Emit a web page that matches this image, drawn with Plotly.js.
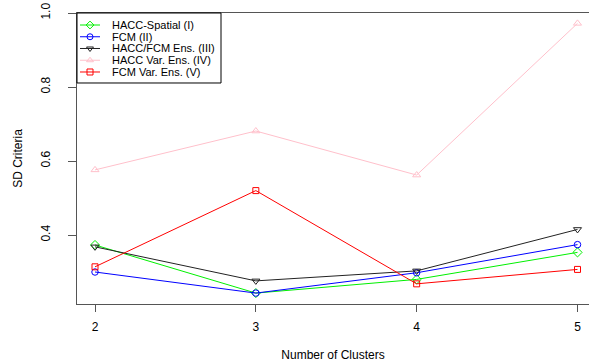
<!DOCTYPE html>
<html><head><meta charset="utf-8">
<script src="https://cdn.plot.ly/plotly-3.0.1.min.js"></script>
<style>html,body{margin:0;padding:0;background:#fff}#chart{width:589px;height:364px}</style>
</head><body><div id="chart"></div>
<script>
const clusters = [2, 3, 4, 5];
const haccSpatial = [0.373, 0.243, 0.280, 0.353];
const fcm = [0.300, 0.243, 0.298, 0.374];
const haccFcmEns = [0.368, 0.276, 0.303, 0.415];
const haccVarEns = [0.576, 0.681, 0.562, 0.972];
const fcmVarEns = [0.314, 0.520, 0.268, 0.307];

const seriesNames = ["HACC-Spatial (I)", "FCM (II)", "HACC/FCM Ens. (III)", "HACC Var. Ens. (IV)", "FCM Var. Ens. (V)"];
const seriesValues = [haccSpatial, fcm, haccFcmEns, haccVarEns, fcmVarEns];
const seriesColors = ["#00f000", "#0000ff", "#222222", "#ffc0cb", "#ff0000"];
const seriesSymbols = ["diamond-open", "circle-open", "triangle-down-open", "triangle-up-open", "square-open"];
const seriesSizes = [7, 6.5, 7, 7, 6];

const FONT = '"Liberation Sans", Arial, Helvetica, sans-serif';
const traces = [];
seriesNames.forEach((n, i) => {
  traces.push({
    x: clusters, y: seriesValues[i], name: n, type: 'scatter', mode: 'lines+markers',
    line: {color: seriesColors[i], width: 1},
    marker: {symbol: seriesSymbols[i], size: seriesSizes[i], color: seriesColors[i], line: {width: 1, color: seriesColors[i]}},
    showlegend: false, hoverinfo: 'skip'
  });
});

// custom legend drawn on an overlay axis
const rowY = i => 12 + 11.75 * i;
const annotations = [];
seriesNames.forEach((n, i) => {
  traces.push({
    x: [3, 23], y: [rowY(i), rowY(i)], xaxis: 'x2', yaxis: 'y2', mode: 'lines',
    line: {color: seriesColors[i], width: 1}, showlegend: false, hoverinfo: 'skip'
  });
  traces.push({
    x: [13], y: [rowY(i)], xaxis: 'x2', yaxis: 'y2', mode: 'markers',
    marker: {symbol: seriesSymbols[i], size: 6, color: seriesColors[i], line: {width: 1, color: seriesColors[i]}},
    showlegend: false, hoverinfo: 'skip'
  });
  annotations.push({
    xref: 'x2', yref: 'y2', x: 33, y: rowY(i), text: n, showarrow: false,
    xanchor: 'left', yanchor: 'middle', font: {family: FONT, size: 11, color: '#000'}
  });
});

const layout = {
  width: 589, height: 364,
  margin: {l: 77, r: 0, t: 13, b: 60, pad: 0},
  paper_bgcolor: '#fff', plot_bgcolor: '#fff',
  font: {family: FONT, size: 12, color: '#000'},
  showlegend: false,
  xaxis: {
    range: [1.888, 5.0715], tickvals: clusters, ticktext: clusters.map(String),
    showgrid: false, zeroline: false, showline: true, mirror: true, linecolor: '#555', linewidth: 1,
    ticks: 'outside', ticklen: 7, tickcolor: '#555', tickwidth: 1, ticklabelstandoff: 5,
    tickfont: {family: FONT, size: 12, color: '#000'},
    title: {text: 'Number of Clusters', font: {family: FONT, size: 12, color: '#000'}, standoff: 17},
    automargin: false
  },
  yaxis: {
    range: [0.2135, 1.0], tickvals: [0.4, 0.6, 0.8, 1.0], ticktext: ['0.4', '0.6', '0.8', '1.0'],
    showgrid: false, zeroline: false, showline: true, linecolor: '#555', linewidth: 1,
    ticks: 'outside', ticklen: 8, tickcolor: '#555', tickwidth: 1, tickangle: -90, ticklabelstandoff: 13,
    tickfont: {family: FONT, size: 12, color: '#000'},
    title: {text: 'SD Criteria', font: {family: FONT, size: 12, color: '#000'}, standoff: 14},
    automargin: false
  },
  xaxis2: {domain: [0, 0.28125], range: [0, 144], visible: false, fixedrange: true, anchor: 'y2'},
  yaxis2: {domain: [0.7595, 1], range: [70, 0], visible: false, fixedrange: true, anchor: 'x2'},
  shapes: [{type: 'rect', xref: 'paper', yref: 'paper', x0: 0, x1: 0.28125, y0: 0.7595, y1: 1,
            line: {color: '#000', width: 1}, fillcolor: 'rgba(255,255,255,0)', layer: 'above'}],
  annotations: annotations
};

Plotly.newPlot('chart', traces, layout, {displayModeBar: false, staticPlot: true});
</script></body></html>
